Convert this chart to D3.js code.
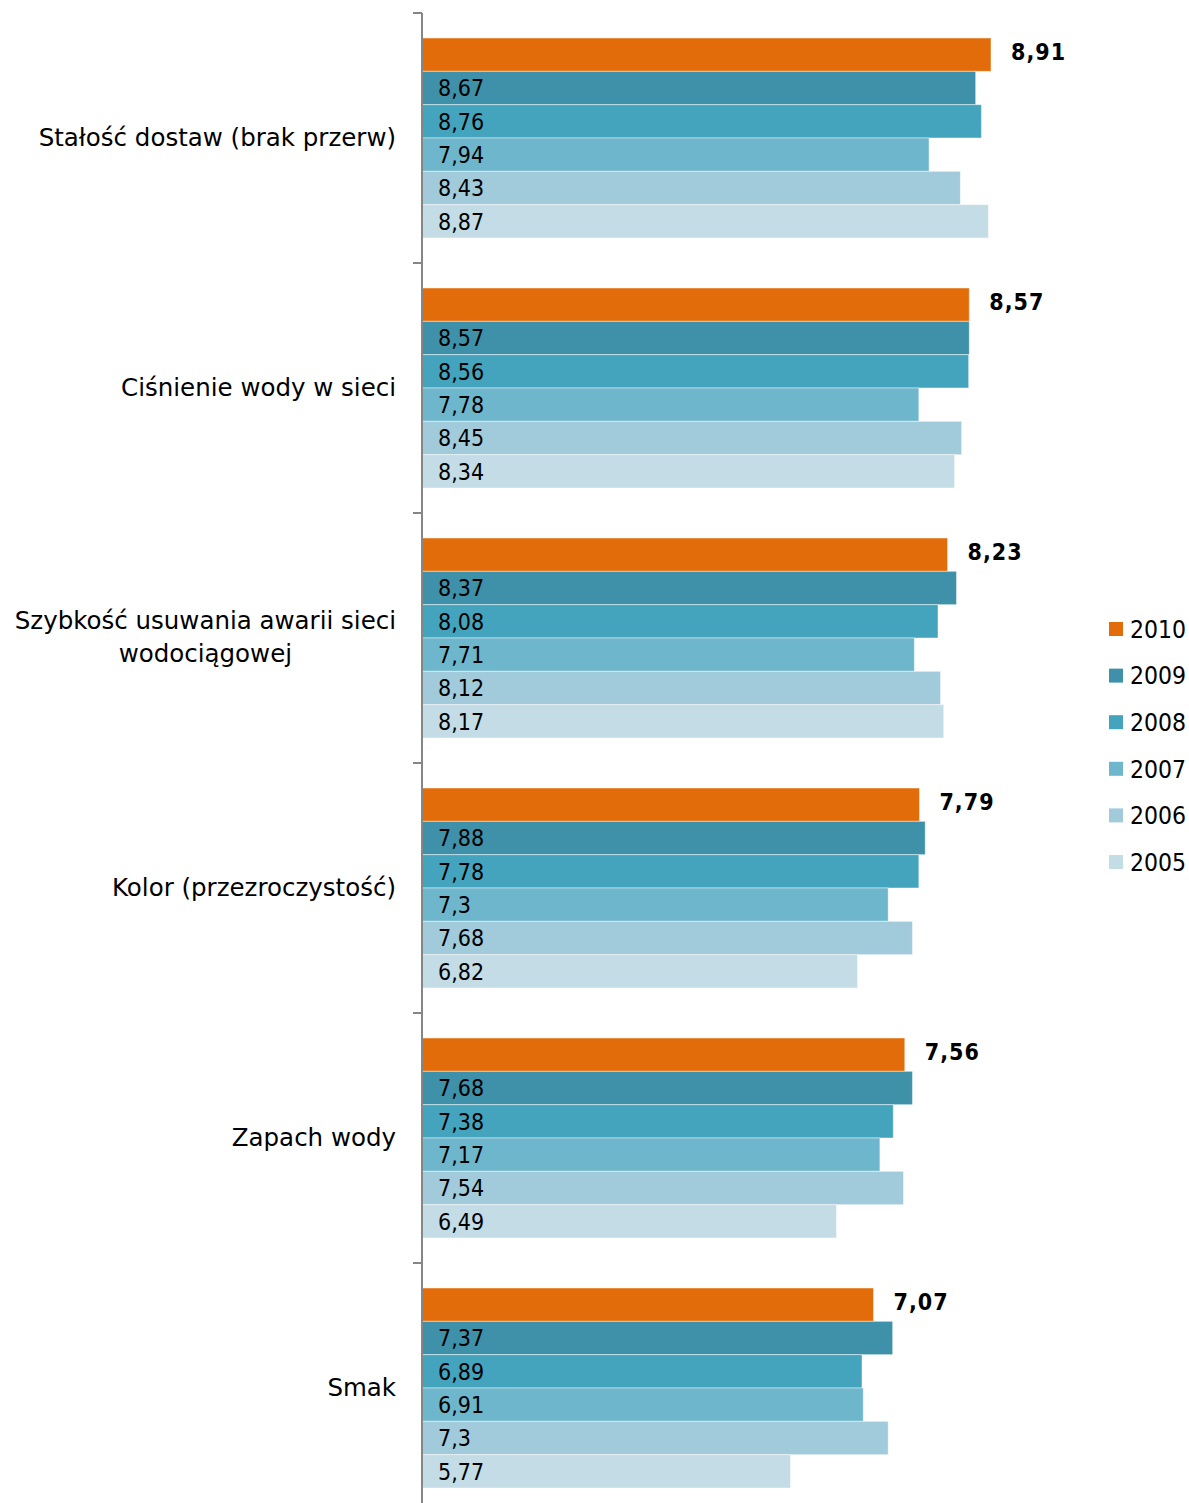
<!DOCTYPE html>
<html>
<head>
<meta charset="utf-8">
<script src="https://cdn.jsdelivr.net/npm/d3@7"></script>
<style>
  html, body { margin: 0; padding: 0; background: #fff; }
  svg text { font-family: "DejaVu Sans Condensed", "DejaVu Sans", sans-serif; fill: #000; }
  svg text.cat { font-family: "DejaVu Sans", sans-serif; }
</style>
</head>
<body>
<svg id="chart" width="1189" height="1503"></svg>
<script>
// Ocena jakości usług wodociągowych, lata 2005–2010
const categories = [
  ["Stałość dostaw (brak przerw)"],
  ["Ciśnienie wody w sieci"],
  ["Szybkość usuwania awarii sieci", "wodociągowej"],
  ["Kolor (przezroczystość)"],
  ["Zapach wody"],
  ["Smak"]
];
const years = ["2010", "2009", "2008", "2007", "2006", "2005"];
const v2010 = [8.91, 8.57, 8.23, 7.79, 7.56, 7.07];
const v2009 = [8.67, 8.57, 8.37, 7.88, 7.68, 7.37];
const v2008 = [8.76, 8.56, 8.08, 7.78, 7.38, 6.89];
const v2007 = [7.94, 7.78, 7.71, 7.3, 7.17, 6.91];
const v2006 = [8.43, 8.45, 8.12, 7.68, 7.54, 7.3];
const v2005 = [8.87, 8.34, 8.17, 6.82, 6.49, 5.77];
const seriesValues = [v2010, v2009, v2008, v2007, v2006, v2005];
const colors = ["#E36C0A", "#3F90A9", "#44A4BE", "#6EB6CC", "#A1CADA", "#C3DCE5"];

const fmt = v => String(v).replace(".", ",");

const svg = d3.select("#chart");
const axisX = 422;
const plotTop = 13, bandH = 250;

const x = d3.scaleLinear().domain([0, 10]).range([axisX, axisX + 638.6]);
const y = d3.scaleBand()
  .domain(d3.range(categories.length))
  .range([plotTop, plotTop + bandH * categories.length])
  .paddingInner(0.2).paddingOuter(0.1);
const yInner = d3.scaleBand().domain(d3.range(years.length)).range([0, y.bandwidth()]);

// bars
const groups = svg.append("g").selectAll("g")
  .data(categories.map((c, i) => i))
  .join("g")
  .attr("transform", i => `translate(0,${y(i)})`);

groups.each(function (ci) {
  const g = d3.select(this);
  const rows = years.map((yr, si) => ({ si, v: seriesValues[si][ci] }));
  g.selectAll("rect").data(rows).join("rect")
    .attr("x", x(0))
    .attr("y", d => yInner(d.si))
    .attr("width", d => x(d.v) - x(0))
    .attr("height", yInner.bandwidth())
    .attr("fill", d => colors[d.si])
    .attr("stroke", "rgba(255,255,255,0.45)")
    .attr("stroke-width", 1);

  // values inside the older-year bars
  g.selectAll("text.inner").data(rows.filter(d => d.si > 0)).join("text")
    .attr("class", "inner")
    .attr("x", x(0) + 16)
    .attr("y", d => yInner(d.si) + yInner.bandwidth() / 2)
    .attr("dy", "0.36em")
    .attr("font-size", 23)
    .text(d => fmt(d.v));

  // bold value for the latest year
  const last = rows[0];
  g.append("text")
    .attr("x", x(last.v) + 20)
    .attr("y", yInner(0) + yInner.bandwidth() / 2 - 3)
    .attr("dy", "0.36em")
    .attr("font-size", 23)
    .attr("font-weight", "bold")
    .attr("letter-spacing", 1)
    .text(fmt(last.v));
});

// vertical axis with ticks on band boundaries
const axisG = svg.append("g");
axisG.append("line")
  .attr("x1", axisX).attr("x2", axisX)
  .attr("y1", plotTop).attr("y2", 1503)
  .attr("stroke", "#868686").attr("stroke-width", 2);
axisG.selectAll("line.tick")
  .data(d3.range(categories.length + 1))
  .join("line")
  .attr("class", "tick")
  .attr("x1", axisX - 9).attr("x2", axisX)
  .attr("y1", i => plotTop + i * bandH).attr("y2", i => plotTop + i * bandH)
  .attr("stroke", "#868686").attr("stroke-width", 2);

// category labels, right-aligned block with centred lines
const labelRight = 396;
categories.forEach((lines, i) => {
  const cy = plotTop + bandH * i + bandH / 2 - 1;
  const lineH = 33;
  const t = svg.append("text").attr("class", "cat").attr("font-size", 24.5);
  lines.forEach((ln, k) => {
    t.append("tspan")
      .attr("y", cy + (k - (lines.length - 1) / 2) * lineH)
      .attr("dy", "0.36em")
      .text(ln);
  });
  const widths = [];
  t.selectAll("tspan").each(function () { widths.push(this.getComputedTextLength()); });
  const maxW = d3.max(widths);
  t.attr("text-anchor", "middle");
  t.selectAll("tspan").attr("x", labelRight - maxW / 2);
});

// legend
const legend = svg.append("g").selectAll("g")
  .data(years)
  .join("g")
  .attr("transform", (d, i) => `translate(1109,${629 + i * 46.6})`);
legend.append("rect")
  .attr("x", 0).attr("y", -7).attr("width", 14).attr("height", 14)
  .attr("fill", (d, i) => colors[i]);
legend.append("text")
  .attr("x", 21).attr("y", 0).attr("dy", "0.36em")
  .attr("font-size", 24.5)
  .text(d => d);
</script>
</body>
</html>
